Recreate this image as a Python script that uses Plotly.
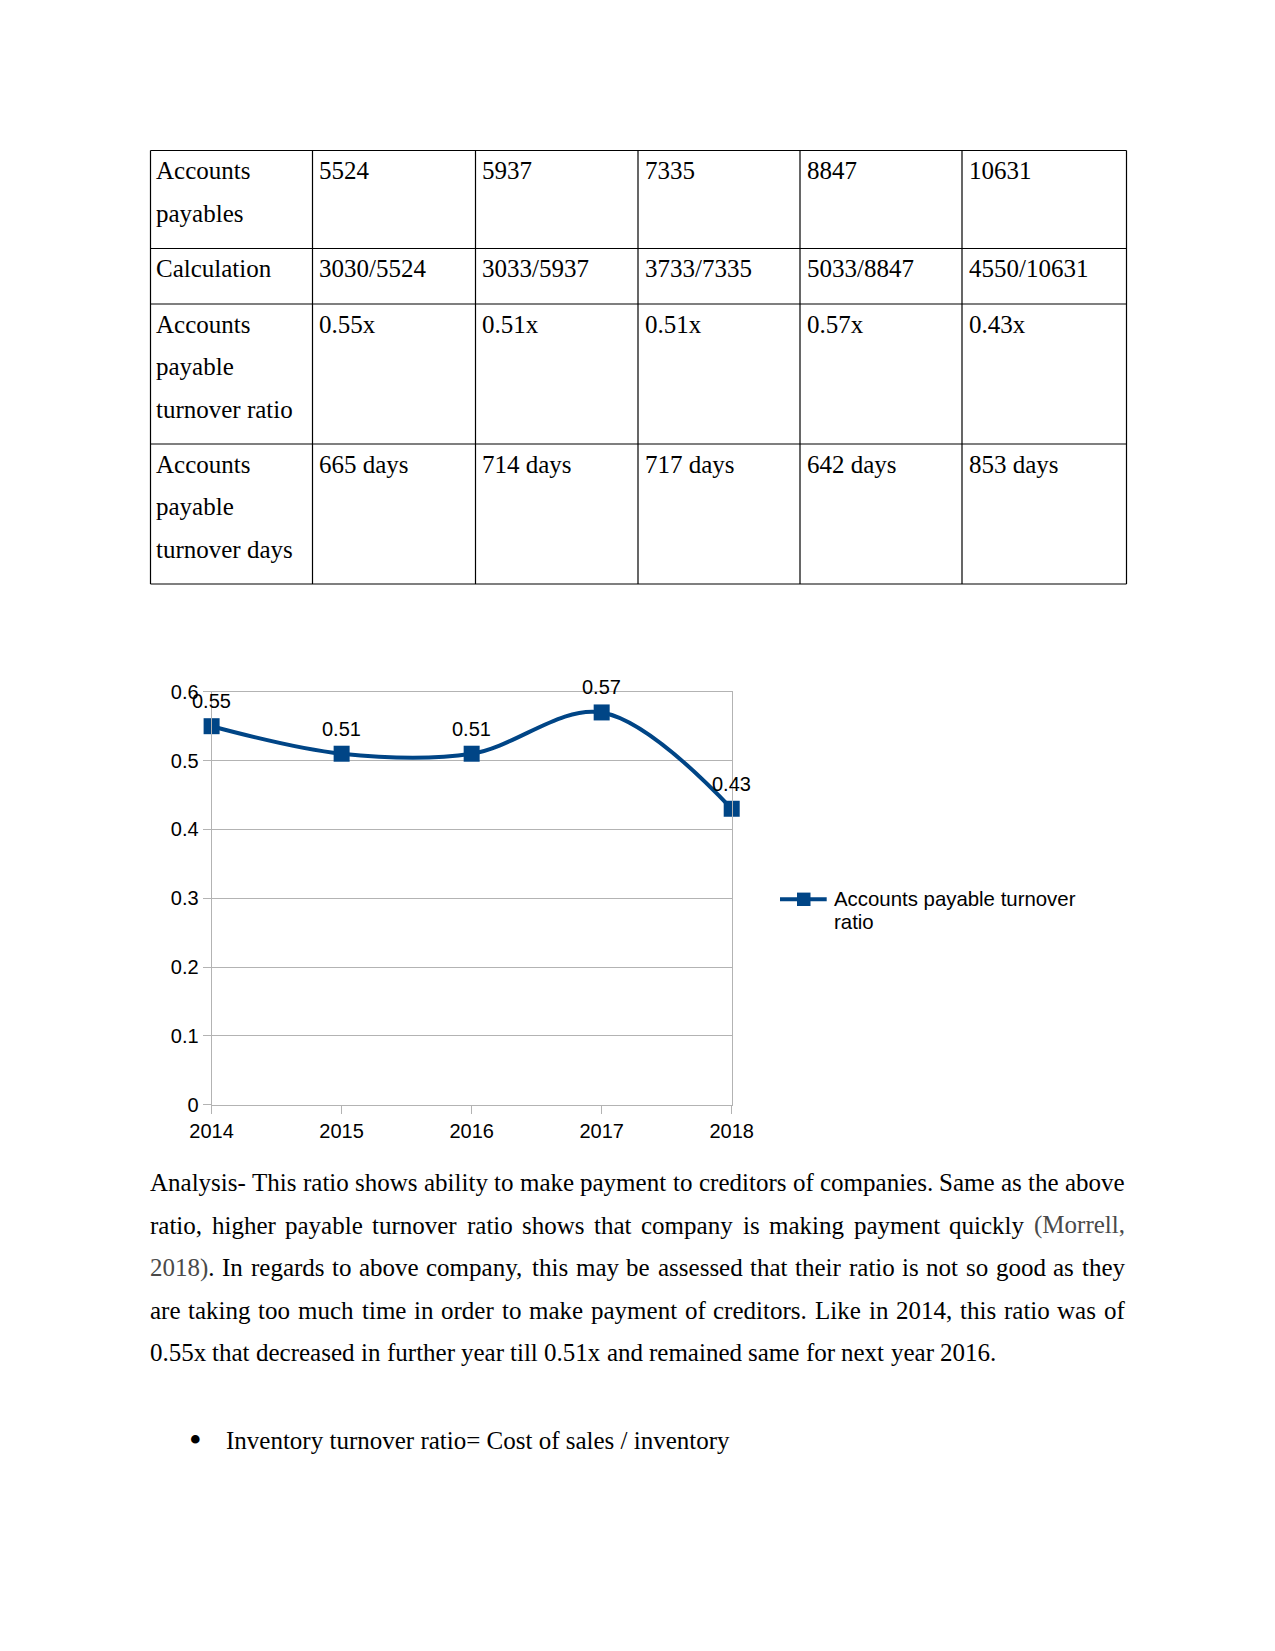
import plotly.graph_objects as go

# ---------------- data ----------------
years = [2014, 2015, 2016, 2017, 2018]
accounts_payables = [5524, 5937, 7335, 8847, 10631]
numerators = [3030, 3033, 3733, 5033, 4550]
ratios = [0.55, 0.51, 0.51, 0.57, 0.43]
days = [665, 714, 717, 642, 853]
row_labels = [["Accounts", "payables"], ["Calculation"],
              ["Accounts", "payable", "turnover ratio"],
              ["Accounts", "payable", "turnover days"]]
series_name_lines = ["Accounts payable turnover", "ratio"]
body_lines = [
    "Analysis- This ratio shows ability to make payment to creditors of companies. Same as the above",
    "ratio, higher payable turnover ratio shows that company is making payment quickly (Morrell,",
    "2018). In regards to above company, this may be assessed that their ratio is not so good as they",
    "are taking too much time in order to make payment of creditors. Like in 2014, this ratio was of",
    "0.55x that decreased in further year till 0.51x and remained same for next year 2016.",
]
cited_words = {"(Morrell,": "(Morrell,", "2018).": "2018)"}
bullet_text = "Inventory turnover ratio= Cost of sales / inventory"

# ---------------- page geometry ----------------
OFF = 8
W, H = 1275 - 2 * OFF, 1651 - 2 * OFF


def PX(x):
    return (x - OFF) / W


def PY(y):
    return 1 - (y - OFF) / H


SERIF = "Liberation Serif"
SANS = "Liberation Sans"
FS = 25
LINE_COLOR = "#004586"
GRID = "#b3b3b3"

TW = {' ': 250, '!': 333, '(': 333, ')': 333, ',': 250, '-': 333, '.': 250, '/': 278, '=': 564,
      'A': 722, 'B': 667, 'C': 667, 'D': 722, 'E': 611, 'F': 556, 'G': 722, 'H': 722, 'I': 333,
      'J': 389, 'K': 722, 'L': 611, 'M': 889, 'N': 722, 'O': 722, 'P': 556, 'Q': 722, 'R': 667,
      'S': 556, 'T': 611, 'U': 722, 'V': 722, 'W': 944, 'X': 722, 'Y': 722, 'Z': 611,
      'a': 444, 'b': 500, 'c': 444, 'd': 500, 'e': 444, 'f': 333, 'g': 500, 'h': 500, 'i': 278,
      'j': 278, 'k': 500, 'l': 278, 'm': 778, 'n': 500, 'o': 500, 'p': 500, 'q': 500, 'r': 333,
      's': 389, 't': 278, 'u': 500, 'v': 500, 'w': 722, 'x': 500, 'y': 500, 'z': 444}


def tw(s):
    return sum(TW.get(c, 500) for c in s) / 1000 * FS


fig = go.Figure()
annotations = []
shapes = []


def text_at(x, y, s, size=FS, family=SERIF, color="black", xanchor="left"):
    annotations.append(dict(x=PX(x), y=PY(y), xref="paper", yref="paper", text=s,
                            showarrow=False, xanchor=xanchor, yanchor="middle",
                            borderpad=0, font=dict(family=family, size=size, color=color)))


# ---------------- table ----------------
col_x = [150.5, 312.5, 475.5, 638, 800, 962, 1126.5]
row_y = [150.5, 248.5, 304, 444, 584]
for x in col_x:
    shapes.append(dict(type="line", xref="paper", yref="paper", x0=PX(x), x1=PX(x),
                       y0=PY(row_y[0]), y1=PY(row_y[-1]), line=dict(color="black", width=1.2)))
for y in row_y:
    shapes.append(dict(type="line", xref="paper", yref="paper", x0=PX(col_x[0]), x1=PX(col_x[-1]),
                       y0=PY(y), y1=PY(y), line=dict(color="black", width=1.2)))

cells = [
    [str(v) for v in accounts_payables],
    [f"{n}/{d}" for n, d in zip(numerators, accounts_payables)],
    [f"{r:.2f}x" for r in ratios],
    [f"{d} days" for d in days],
]
LS = 42.5
for r in range(4):
    first_mid = row_y[r] + 20.3
    for k, line in enumerate(row_labels[r]):
        text_at(col_x[0] + 4.5, first_mid + k * LS, line)
    for c in range(5):
        text_at(col_x[c + 1] + 5.5, first_mid, cells[r][c])

# ---------------- chart ----------------
x0px, x1px = 211.6, 731.7
y0px, y6px = 1104.6, 691.8
fig.add_trace(go.Scatter(
    x=years, y=ratios, mode="lines+markers",
    line=dict(color=LINE_COLOR, width=4, shape="spline", smoothing=1.0),
    marker=dict(symbol="square", size=16, color=LINE_COLOR),
    cliponaxis=False, showlegend=False, hoverinfo="x+y"))

for yr, v in zip(years, ratios):
    annotations.append(dict(x=yr, y=v, xref="x", yref="y", text=f"{v:.2f}", showarrow=False,
                            xanchor="center", yanchor="middle", yshift=25, borderpad=0,
                            font=dict(family=SANS, size=20, color="black")))

# legend (drawn)
leg_y = 899.3
shapes.append(dict(type="line", xref="paper", yref="paper", x0=PX(780), x1=PX(826.7),
                   y0=PY(leg_y), y1=PY(leg_y), line=dict(color=LINE_COLOR, width=4)))
shapes.append(dict(type="rect", xref="paper", yref="paper", x0=PX(797), x1=PX(810.5),
                   y0=PY(leg_y - 6.7), y1=PY(leg_y + 6.7), fillcolor=LINE_COLOR,
                   line=dict(width=0)))
for k, s in enumerate(series_name_lines):
    text_at(832.5, leg_y + k * 23, s, size=20.4, family=SANS)

# ---------------- body text ----------------
L, R = 148.8, 1124.0
body_mid0 = 1182.5
for i, line in enumerate(body_lines):
    y = body_mid0 + i * LS
    words = line.split(" ")
    if i == len(body_lines) - 1:
        gap = tw(" ")
    else:
        gap = (R - L - sum(tw(w) for w in words)) / (len(words) - 1)
    x = L
    for w in words:
        if w in cited_words:
            core = cited_words[w]
            s = f'<span style="color:#4a4a4a">{core}</span>{w[len(core):]}'
        else:
            s = w
        text_at(x, y, s)
        x += tw(w) + gap

bul_y = 1440.8
text_at(195, bul_y - 1, "•", size=36, xanchor="center")
text_at(224.5, bul_y, bullet_text)

fig.update_layout(
    width=W, height=H, margin=dict(l=0, r=0, t=0, b=0, pad=0, autoexpand=False),
    paper_bgcolor="white", plot_bgcolor="white", showlegend=False,
    annotations=annotations, shapes=shapes,
    xaxis=dict(domain=[PX(x0px), PX(x1px)], range=[2014, 2018], tickvals=years,
               ticktext=[str(y) for y in years], showgrid=False, zeroline=False,
               automargin=False,
               showline=True, linecolor=GRID, linewidth=1, mirror=True,
               ticks="outside", ticklen=8, tickcolor=GRID, tickwidth=1,
               tickfont=dict(family=SANS, size=20, color="black")),
    yaxis=dict(domain=[PY(y0px), PY(y6px)], range=[0, 0.6], tick0=0, dtick=0.1,
               automargin=False,
               showgrid=True, gridcolor=GRID, gridwidth=1, zeroline=False,
               showline=True, linecolor=GRID, linewidth=1, mirror=True,
               ticks="outside", ticklen=8, tickcolor=GRID, tickwidth=1,
               tickfont=dict(family=SANS, size=20, color="black")),
)

fig.write_html("out.html")
